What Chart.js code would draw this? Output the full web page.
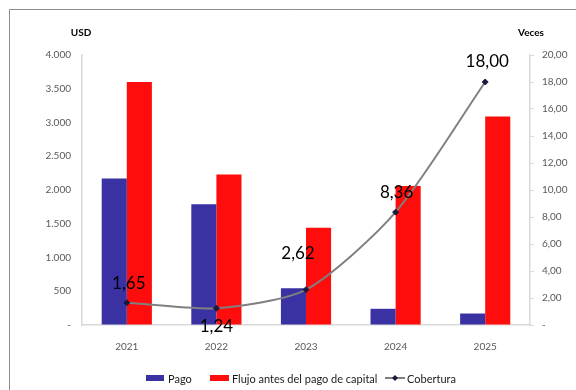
<!DOCTYPE html>
<html>
<head>
<meta charset="utf-8">
<script src="https://cdn.jsdelivr.net/npm/chart.js@4"></script>
<style>
  html, body { margin: 0; padding: 0; background: #fff; }
  #wrap { width: 576px; height: 390px; position: relative; }
</style>
</head>
<body>
<div id="wrap"><canvas id="chart"></canvas></div>
<script>
/* ---------------- DATA ---------------- */
const YEARS = ["2021", "2022", "2023", "2024", "2025"];
const PAGO = [2170, 1790, 545, 240, 170];          // USD
const FLUJO = [3600, 2230, 1440, 2060, 3090];      // USD
const COBERTURA = [1.65, 1.24, 2.62, 8.36, 18.00]; // veces
const SERIES_NAMES = ["Pago", "Flujo antes del pago de capital", "Cobertura"];
/* -------------------------------------- */

const FONT = "Lato, 'Open Sans', sans-serif";
const BLUE = "#3a31a3";
const RED = "#ff0d0d";
const GREY = "#808080";
const AXIS = "#d9d9d9";
const TICK = "#595959";

// label offsets for the Cobertura values (dx, dy from the point)
const LABEL_OFFSETS = [[2, -19], [0, 18], [-8, -36], [1, -20], [2, -20]];

const fmtUSD = v => v === 0 ? "-" : v.toLocaleString("de-DE");
const fmtVeces = v => v === 0 ? "-" : v.toFixed(2).replace(".", ",");

/* frame, axis titles, value labels and legend */
const extras = {
  id: "extras",
  beforeDraw(chart){
    const ctx = chart.ctx;
    ctx.save();
    ctx.strokeStyle = "#8c8c8c";
    ctx.lineWidth = 1;
    ctx.beginPath();
    ctx.moveTo(9.5, 400);
    ctx.lineTo(9.5, 9.5);
    ctx.lineTo(600, 9.5);
    ctx.stroke();
    ctx.restore();
  },
  afterDraw(chart){
    const ctx = chart.ctx;
    ctx.save();
    // axis titles
    ctx.fillStyle = "#000";
    ctx.font = "bold 10px " + FONT;
    ctx.textBaseline = "middle";
    ctx.textAlign = "center";
    ctx.fillText("USD", 81, 33);
    ctx.fillText("Veces", 531, 33);

    // Cobertura labels (line is dataset 0)
    const meta = chart.getDatasetMeta(0);
    ctx.font = "17px " + FONT;
    meta.data.forEach((pt, i) => {
      const [dx, dy] = LABEL_OFFSETS[i];
      ctx.fillText(fmtVeces(COBERTURA[i]), pt.x + dx, pt.y + dy);
    });

    // legend
    ctx.font = "11px " + FONT;
    ctx.textAlign = "left";
    const ly = 378;
    let x = 146;
    ctx.fillStyle = BLUE;
    ctx.fillRect(x, ly - 3, 18, 6);
    ctx.fillStyle = "#1a1a1a";
    ctx.fillText(SERIES_NAMES[0], x + 22, ly + 1);
    x = 210;
    ctx.fillStyle = RED;
    ctx.fillRect(x, ly - 3, 19, 6);
    ctx.fillStyle = "#1a1a1a";
    ctx.fillText(SERIES_NAMES[1], x + 22, ly + 1);
    x = 385;
    ctx.strokeStyle = GREY;
    ctx.lineWidth = 2;
    ctx.beginPath();
    ctx.moveTo(x, ly);
    ctx.lineTo(x + 20, ly);
    ctx.stroke();
    ctx.fillStyle = "#1b1a3d";
    ctx.beginPath();
    ctx.moveTo(x + 10, ly - 3);
    ctx.lineTo(x + 13, ly);
    ctx.lineTo(x + 10, ly + 3);
    ctx.lineTo(x + 7, ly);
    ctx.closePath();
    ctx.fill();
    ctx.fillStyle = "#1a1a1a";
    ctx.fillText(SERIES_NAMES[2], x + 22, ly + 1);
    ctx.restore();
  }
};

new Chart(document.getElementById("chart"), {
  data: {
    labels: YEARS,
    datasets: [
      {
        type: "line",
        label: SERIES_NAMES[2],
        data: COBERTURA,
        yAxisID: "y2",
        borderColor: GREY,
        borderWidth: 2,
        tension: 0.25,
        pointStyle: "rectRot",
        pointRadius: 3,
        pointBackgroundColor: "#1b1a3d",
        pointBorderColor: "#1b1a3d",
        pointBorderWidth: 1,
        order: 0
      },
      {
        type: "bar",
        label: SERIES_NAMES[0],
        data: PAGO,
        yAxisID: "y",
        backgroundColor: BLUE,
        categoryPercentage: 0.56,
        barPercentage: 1,
        order: 1
      },
      {
        type: "bar",
        label: SERIES_NAMES[1],
        data: FLUJO,
        yAxisID: "y",
        backgroundColor: RED,
        categoryPercentage: 0.56,
        barPercentage: 1,
        order: 1
      }
    ]
  },
  options: {
    responsive: true,
    maintainAspectRatio: false,
    animation: false,
    layout: { padding: { top: 55, left: 0, right: 0, bottom: 0 } },
    plugins: {
      legend: { display: false },
      tooltip: { enabled: false }
    },
    scales: {
      x: {
        offset: true,
        grid: { display: false },
        border: { display: true, color: AXIS, width: 1.5 },
        ticks: { color: TICK, font: { family: FONT, size: 10 }, padding: 8 },
        afterFit: s => { s.height = 65; }
      },
      y: {
        position: "left",
        min: 0, max: 4000,
        grid: { drawOnChartArea: false, drawTicks: false },
        border: { display: true, color: AXIS, width: 1.5 },
        ticks: { stepSize: 500, color: TICK, font: { family: FONT, size: 10 }, padding: 11, callback: fmtUSD },
        afterFit: s => { s.width = 82; }
      },
      y2: {
        position: "right",
        min: 0, max: 20,
        grid: { drawOnChartArea: false, drawTicks: true, tickLength: 4, color: AXIS },
        border: { display: true, color: AXIS, width: 1.5 },
        ticks: { stepSize: 2, color: TICK, font: { family: FONT, size: 10 }, padding: 8, callback: fmtVeces },
        afterFit: s => { s.width = 46; }
      }
    }
  },
  plugins: [extras]
});
</script>
</body>
</html>
